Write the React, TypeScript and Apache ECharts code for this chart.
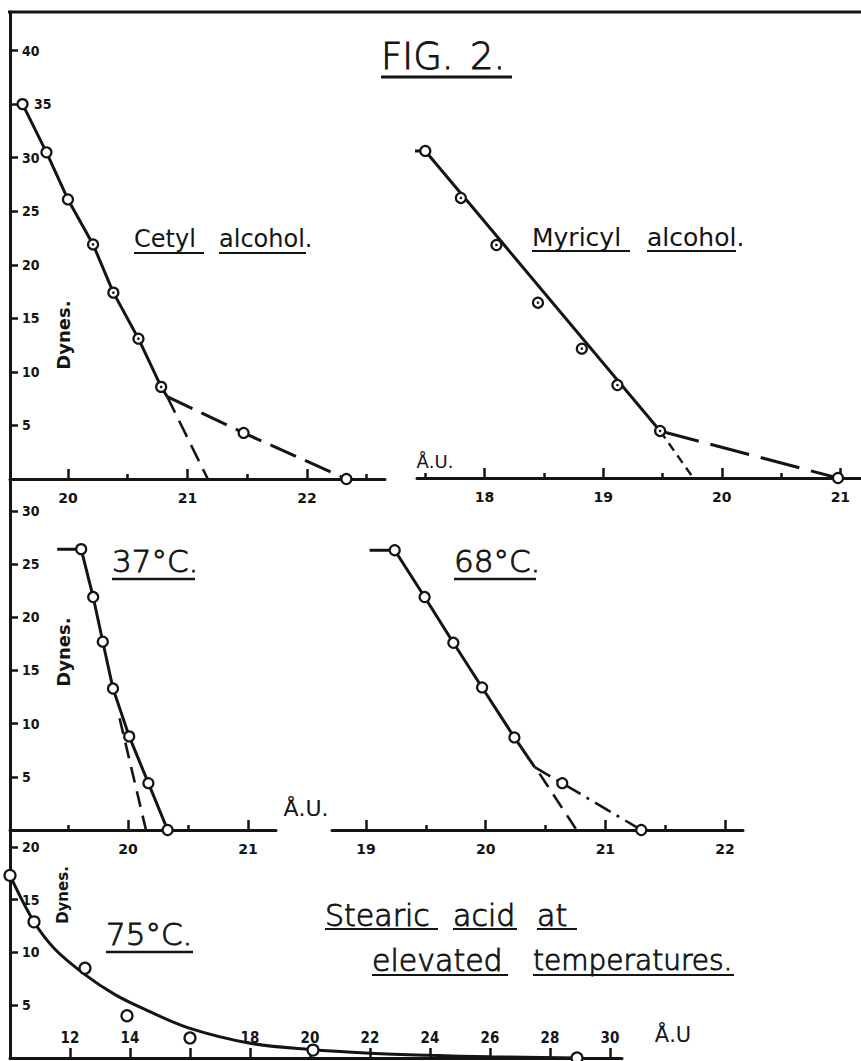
import React, { useEffect, useRef } from 'react';
import * as echarts from 'echarts';

const INK = '#141414';

// ---- Cetyl alcohol (Å.U. vs dynes) ----
const cetylSpacing = [19.62, 19.82, 20.0, 20.21, 20.38, 20.59, 20.78, 21.47, 22.33];
const cetylForce = [35, 30.5, 26.1, 21.9, 17.4, 13.1, 8.6, 4.3, 0];
const cetylKnee = [20.83, 7.7];
const cetylIntercept = [21.17, 0];
const cetylDotted = [3, 4, 5, 6];

// ---- Myricyl alcohol ----
const myricylSpacing = [17.5, 17.8, 18.1, 18.45, 18.82, 19.12, 19.48, 20.98];
const myricylForce = [30.6, 26.2, 21.8, 16.4, 12.1, 8.7, 4.4, 0];
const myricylPlateauStart = 17.29;
const myricylIntercept = [19.76, 0];
const myricylDotted = [1, 2, 3, 4, 5, 6];

// ---- Stearic acid 37°C ----
const s37Spacing = [19.61, 19.71, 19.79, 19.875, 20.01, 20.17, 20.33];
const s37Force = [26.4, 21.9, 17.7, 13.3, 8.8, 4.4, 0];
const s37PlateauStart = 19.41;
const s37Extrapolation = [[19.93, 10.5], [20.15, 0]];

// ---- Stearic acid 68°C ----
const s68Spacing = [19.24, 19.49, 19.73, 19.97, 20.24, 20.64, 21.3];
const s68Force = [26.3, 21.9, 17.6, 13.4, 8.7, 4.4, 0];
const s68PlateauStart = 19.03;
const s68Knee = [20.41, 5.9];
const s68Extrapolation = [[20.45, 5.3], [20.76, 0]];

// ---- Stearic acid 75°C ----
const s75Spacing = [10.0, 10.8, 12.5, 13.9, 16.0, 20.1, 28.9];
const s75Force = [17.3, 12.9, 8.5, 4.0, 1.9, 0.75, 0];
const s75CurveSpacing = [10.0, 10.8, 11.5, 12.5, 13.5, 14.5, 16, 18, 20, 22, 24, 26, 28.9];
const s75CurveForce = [17.3, 12.9, 10.3, 7.9, 6.0, 4.6, 2.8, 1.4, 0.8, 0.45, 0.25, 0.12, 0];

// ---- Tick values ----
const cetylMajor = [20, 21, 22];
const cetylMinor = [20.5, 21.5, 22.5];
const myricylMajor = [18, 19, 20, 21];
const myricylMinor = [17.5, 18.5, 19.5, 20.5];
const s37Major = [20, 21];
const s37Minor = [19.5, 20.5];
const s68Major = [19, 20, 21, 22];
const s68Minor = [19.5, 20.5, 21.5];
const s75Ticks = [12, 14, 16, 18, 20, 22, 24, 26, 28, 30];
const s75Labels = [12, 14, 18, 20, 22, 24, 26, 28, 30];
const dynesTop = [5, 10, 15, 20, 25, 30, 35, 40];
const dynesMid = [5, 10, 15, 20, 25, 30];
const dynesBottom = [5, 10, 15, 20];

const zip = (xs: number[], ys: number[]) => xs.map((x, i) => [x, ys[i]]);

const LABEL_FONT = 'DejaVu Sans';

function mainX(g: number, min: number, max: number, major: number[], opts: any = {}) {
  return {
    type: 'value', gridIndex: g, min, max, position: 'bottom',
    axisLine: { show: true, onZero: false, lineStyle: { color: INK, width: 3 } },
    axisTick: { show: true, inside: true, length: 10, customValues: opts.ticks || major, lineStyle: { color: INK, width: 2.5 } },
    axisLabel: {
      show: true, inside: !!opts.inside, customValues: major, margin: opts.margin ?? 12,
      color: INK, fontSize: opts.fontSize || 14, fontWeight: 'bold', fontFamily: opts.fontFamily || LABEL_FONT,
    },
    splitLine: { show: false },
  };
}
function minorX(g: number, min: number, max: number, minor: number[]) {
  return {
    type: 'value', gridIndex: g, min, max, position: 'bottom',
    axisLine: { show: false },
    axisTick: { show: true, inside: true, length: 5, customValues: minor, lineStyle: { color: INK, width: 2.5 } },
    axisLabel: { show: false },
    splitLine: { show: false },
  };
}
function leftY(g: number, max: number, ticks: number[], shifted: number[] = []) {
  return {
    type: 'value', gridIndex: g, min: 0, max, position: 'left',
    axisLine: { show: true, onZero: false, lineStyle: { color: INK, width: 3 } },
    axisTick: { show: true, inside: true, length: 8, customValues: ticks, lineStyle: { color: INK, width: 2.5 } },
    axisLabel: {
      show: true, inside: true, margin: 12, customValues: ticks, color: INK, fontSize: 14, fontWeight: 'bold', fontFamily: 'DejaVu Sans Condensed',
      formatter: (v: number) => (shifted.indexOf(v) >= 0 ? '{s|' + v + '}' : String(v)),
      rich: { s: { padding: [0, 0, 0, 12], color: INK, fontSize: 14, fontWeight: 'bold', fontFamily: 'DejaVu Sans Condensed' } },
    },
    splitLine: { show: false },
  };
}
function hiddenY(g: number, max: number) {
  return { type: 'value', gridIndex: g, min: 0, max, show: false, splitLine: { show: false } };
}

function line(data: number[][], xi: number, yi: number, type: any = 'solid', width = 3, smooth: any = false) {
  return {
    type: 'line', xAxisIndex: xi, yAxisIndex: yi, data, symbol: 'none', smooth, clip: false, silent: true, z: 2,
    lineStyle: { color: INK, width, type, cap: 'butt' },
  };
}
function points(data: number[][], xi: number, yi: number, size = 10) {
  return {
    type: 'scatter', xAxisIndex: xi, yAxisIndex: yi, data, symbol: 'circle', symbolSize: size, clip: false, silent: true, z: 5,
    itemStyle: { color: '#fff', borderColor: INK, borderWidth: 2.2, opacity: 1 },
  };
}
function dots(data: number[][], xi: number, yi: number) {
  return {
    type: 'scatter', xAxisIndex: xi, yAxisIndex: yi, data, symbol: 'circle', symbolSize: 2.6, clip: false, silent: true, z: 6,
    itemStyle: { color: INK, opacity: 1 },
  };
}

function word(text: string, x: number, y: number, size: number, weight: any, ul?: number[], ulw = 2.2) {
  const light = weight === 200;
  const els: any[] = [{
    type: 'text', x, y, z: 10,
    style: {
      text, fill: INK, fontSize: size, fontWeight: weight, fontFamily: 'DejaVu Sans', align: 'left', verticalAlign: 'middle',
      stroke: light ? INK : undefined, lineWidth: light ? 0.9 : 0,
    },
  }];
  if (ul) {
    els.push({ type: 'line', z: 10, shape: { x1: ul[0], y1: ul[2], x2: ul[1], y2: ul[2] }, style: { stroke: INK, lineWidth: ulw } });
  }
  return els;
}
function centered(text: string, x: number, y: number, size: number, weight: any, rotation = 0) {
  return {
    type: 'text', x, y, rotation, z: 10,
    style: { text, fill: INK, fontSize: size, fontWeight: weight, fontFamily: 'DejaVu Sans', align: 'center', verticalAlign: 'middle' },
  };
}

export default function App() {
  const ref = useRef<HTMLDivElement>(null);
  useEffect(() => {
    if (!ref.current) return;
    const chart = echarts.init(ref.current, null, { renderer: 'svg' });

    const cetylPts = zip(cetylSpacing, cetylForce);
    const myrPts = zip(myricylSpacing, myricylForce);
    const p37 = zip(s37Spacing, s37Force);
    const p68 = zip(s68Spacing, s68Force);
    const p75 = zip(s75Spacing, s75Force);
    const curve75 = zip(s75CurveSpacing, s75CurveForce);

    const graphic: any[] = [
      { type: 'line', shape: { x1: 8, y1: 12, x2: 861, y2: 12 }, style: { stroke: INK, lineWidth: 3 } },
      ...word('FIG.', 381, 56, 37, 200),
      ...word('2.', 470, 56, 37, 200, [381, 512, 77], 3),
      ...word('Cetyl', 134, 239, 24, 'normal', [134, 204, 253]),
      ...word('alcohol.', 219, 239, 24, 'normal', [219, 306, 253]),
      ...word('Myricyl', 532, 237, 25, 'normal', [532, 630, 251]),
      ...word('alcohol.', 647, 237, 25, 'normal', [647, 736, 251]),
      ...word('37°C.', 112, 561, 31, 200, [112, 195, 579], 2.5),
      ...word('68°C.', 454, 561, 31, 200, [454, 536, 579], 2.5),
      ...word('75°C.', 106, 934, 31, 200, [106, 193, 952], 2.5),
      ...word('Stearic', 325, 915, 30, 200, [325, 438, 929]),
      ...word('acid', 453, 915, 30, 200, [453, 517, 929]),
      ...word('at', 537, 915, 30, 200, [537, 577, 929]),
      ...word('elevated', 372, 960, 30, 200, [372, 508, 975]),
      ...word('temperatures.', 533, 960, 28, 200, [533, 734, 975]),
      centered('Å.U.', 435, 461, 18, 'normal'),
      centered('Å.U.', 306, 808, 22, 'normal'),
      centered('Å.U', 673, 1035, 21, 'normal'),
      centered('Dynes.', 63, 335, 18, 'bold', Math.PI / 2),
      centered('Dynes.', 63, 652, 18, 'bold', Math.PI / 2),
      centered('Dynes.', 63, 895, 15, 'bold', Math.PI / 2),
    ];

    chart.setOption({
      animation: false,
      backgroundColor: '#ffffff',
      grid: [
        { left: 10, top: 12, width: 375, height: 467 },
        { left: 417, top: 12, width: 444, height: 466 },
        { left: 10, top: 480, width: 266, height: 350 },
        { left: 332, top: 480, width: 411, height: 350 },
        { left: 10, top: 830, width: 612, height: 228 },
      ],
      xAxis: [
        mainX(0, 19.515, 22.653, cetylMajor),
        minorX(0, 19.515, 22.653, cetylMinor),
        mainX(1, 17.43, 21.174, myricylMajor),
        minorX(1, 17.43, 21.174, myricylMinor),
        mainX(2, 19.017, 21.233, s37Major),
        minorX(2, 19.017, 21.233, s37Minor),
        mainX(3, 18.716, 22.15, s68Major),
        minorX(3, 18.716, 22.15, s68Minor),
        mainX(4, 10, 30.4, s75Labels, { ticks: s75Ticks, inside: true, margin: 13, fontSize: 15, fontFamily: 'DejaVu Sans Condensed' }),
      ],
      yAxis: [
        leftY(0, 43.6, dynesTop, [35]),
        hiddenY(1, 43.6),
        leftY(2, 32.9, dynesMid),
        hiddenY(3, 32.9),
        leftY(4, 21.6, dynesBottom),
      ],
      series: [
        // Cetyl
        line([...cetylPts.slice(0, 7), cetylKnee], 0, 0),
        line([cetylKnee, cetylPts[7], cetylPts[8]], 0, 0, [28, 10]),
        line([cetylKnee, cetylIntercept], 0, 0, [18, 9], 2.6),
        points(cetylPts, 0, 0),
        dots(cetylDotted.map((i) => cetylPts[i]), 0, 0),
        // Myricyl
        line([[myricylPlateauStart, myrPts[0][1]], myrPts[0], myrPts[6]], 2, 1),
        line([myrPts[6], myrPts[7]], 2, 1, [40, 12]),
        line([myrPts[6], myricylIntercept], 2, 1, [9, 6], 2.4),
        points(myrPts, 2, 1),
        dots(myricylDotted.map((i) => myrPts[i]), 2, 1),
        // 37°C
        line([[s37PlateauStart, p37[0][1]], ...p37], 4, 2),
        line(s37Extrapolation, 4, 2, [16, 9], 2.6),
        points(p37, 4, 2),
        // 68°C
        line([[s68PlateauStart, p68[0][1]], ...p68.slice(0, 5), s68Knee], 6, 3),
        line([s68Knee, p68[5], p68[6]], 6, 3, [18, 7, 3, 7], 2.6),
        line(s68Extrapolation, 6, 3, [16, 9], 2.6),
        points(p68, 6, 3),
        // 75°C
        line(curve75, 8, 4, 'solid', 3, 0.35),
        points(p75, 8, 4, 11),
      ],
      graphic,
    });
    return () => chart.dispose();
  }, []);

  return (
    <div
      ref={ref}
      style={{ position: 'absolute', left: 0, top: 0, width: 861, height: 1061, background: '#fff' }}
    />
  );
}
